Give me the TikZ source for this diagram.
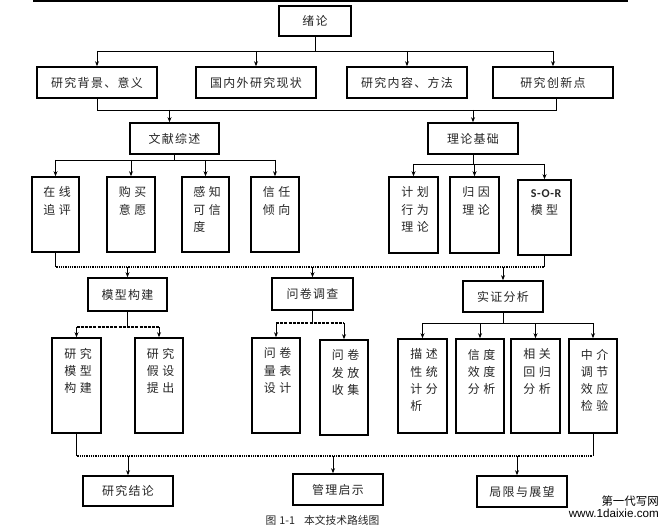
\documentclass[tikz,border=0pt]{standalone}
\usepackage{fontspec}
\usetikzlibrary{arrows.meta}
\newfontfamily\cjkh[LetterSpace=11]{Noto Sans CJK SC}
\newfontfamily\cjkv[LetterSpace=28]{Noto Sans CJK SC}
\newfontfamily\cjkn{Noto Sans CJK SC}
\newfontfamily\carl[LetterSpace=6]{Carlito}
\newfontfamily\libs{Liberation Sans}
\begin{document}
\begin{tikzpicture}[x=1bp,y=-1bp,
  bx/.style={draw, line width=1.6bp, inner sep=0pt, text=black!85},
  hb/.style={bx, font=\cjkh\fontsize{12}{14}\selectfont},
  vlab/.style={anchor=north, yshift=-10.5bp, xshift=1.6bp, align=left, inner sep=0pt, text=black!85, font=\cjkv\fontsize{12}{17.3}\selectfont},
  vb/.style={bx, label={[vlab]north:{#1}}},
  conn/.style={line width=0.8bp},
  arr/.style={conn, -{Stealth[length=5bp,width=4bp]}},
  dotbus/.style={line width=1.3bp, dash pattern=on 1bp off 0.8bp},
  dashbus/.style={line width=1.4bp, dash pattern=on 3bp off 1.2bp},
]
\useasboundingbox (0,0) rectangle (671,529);
\fill[white] (0,0) rectangle (671,529);
\draw[line width=1.5bp] (33,1) -- (628,1);

% level 0 and 1
\node[hb, minimum width=72bp, minimum height=30bp] (xl) at (315,21) {绪论};
\node[hb, minimum width=120bp, minimum height=31bp] (r1) at (97,82.5) {研究背景、意义};
\node[hb, minimum width=120bp, minimum height=31bp] (r2) at (256,82.5) {国内外研究现状};
\node[hb, minimum width=120bp, minimum height=31bp] (r3) at (407,82.5) {研究内容、方法};
\node[hb, minimum width=120bp, minimum height=31bp] (r4) at (553,82.5) {研究创新点};

\node[hb, minimum width=89bp, minimum height=31bp] (wx) at (174.5,138.5) {文献综述};
\node[hb, minimum width=90bp, minimum height=31bp] (ll) at (473,138.5) {理论基础};

% row 3
\node[vb={在线\\追评}, minimum width=47bp, minimum height=75bp] (a1) at (55.5,214.5) {};
\node[vb={购买\\意愿}, minimum width=48bp, minimum height=75bp] (a2) at (131,214.5) {};
\node[vb={感知\\可信\\度}, minimum width=47bp, minimum height=75bp] (a3) at (205.5,214.5) {};
\node[vb={信任\\倾向}, minimum width=48bp, minimum height=75bp] (a4) at (275,214.5) {};
\node[vb={计划\\行为\\理论}, minimum width=49bp, minimum height=76bp] (b1) at (413.5,215) {};
\node[vb={归因\\理论}, minimum width=49bp, minimum height=76bp] (b2) at (474.5,215) {};
\node[vb={{\carl\bfseries\fontsize{12}{17.3}\selectfont S-O-R}\\模型}, minimum width=53bp, minimum height=75bp] (b3) at (544.5,217.5) {};

% row 3 heads
\node[hb, minimum width=79bp, minimum height=33bp] (mx) at (127.5,294.5) {模型构建};
\node[hb, minimum width=81bp, minimum height=32bp] (wj) at (312.5,294) {问卷调查};
\node[hb, minimum width=80bp, minimum height=31bp] (sz) at (503,296.5) {实证分析};

% row 4
\node[vb={研究\\模型\\构建}, minimum width=49bp, minimum height=95bp] (c1) at (76.5,385.5) {};
\node[vb={研究\\假设\\提出}, minimum width=48bp, minimum height=95bp] (c2) at (159,385.5) {};
\node[vb={问卷\\量表\\设计}, minimum width=48bp, minimum height=95bp] (d1) at (276,385.5) {};
\node[vb={问卷\\发放\\收集}, minimum width=48bp, minimum height=95bp] (d2) at (344,387.5) {};
\node[vb={描述\\性统\\计分\\析}, minimum width=49bp, minimum height=94bp] (e1) at (422.5,386) {};
\node[vb={信度\\效度\\分析}, minimum width=48bp, minimum height=94bp] (e2) at (480,386) {};
\node[vb={相关\\回归\\分析}, minimum width=49bp, minimum height=94bp] (e3) at (535.5,386) {};
\node[vb={中介\\调节\\效应\\检验}, minimum width=48bp, minimum height=94bp] (e4) at (593,386) {};

% bottom
\node[hb, minimum width=90bp, minimum height=30bp] (f1) at (128,491) {研究结论};
\node[hb, minimum width=90bp, minimum height=31bp] (f2) at (338,489.5) {管理启示};
\node[hb, minimum width=90bp, minimum height=31bp] (f3) at (522,491.5) {局限与展望};

\node[font=\cjkn\fontsize{10.8}{12}\selectfont, text=black!85, inner sep=0pt] (cap) at (322.5,520) {图\hspace{3bp}1-1\hspace{9bp}本文技术路线图};
\node[anchor=east, font=\cjkn\fontsize{11.5}{13}\selectfont, inner sep=0pt] (wm1) at (659,501) {第一代写网};
\node[anchor=east, font=\libs\fontsize{11.7}{13}\selectfont, inner sep=0pt] (wm2) at (659,513) {www.1daixie.com};

% bus 1
\coordinate (j1) at (315,51);
\draw[conn] (xl.south) -- (j1);
\draw[conn] (j1 -| r1.north) -- (j1 -| r4.north);
\foreach \n in {r1,r2,r3,r4} \draw[arr] (j1 -| \n.north) -- (\n.north);

% bus 2
\coordinate (j2) at (315,110);
\draw[conn] (r1.south) -- (r1.south |- j2) -- ([xshift=3bp]r4.south |- j2) -- ([xshift=3bp]r4.south);
\draw[arr] ([xshift=-5bp]wx.north |- j2) -- ([xshift=-5bp]wx.north);
\draw[arr] (ll.north |- j2) -- (ll.north);

% bus 3
\coordinate (j3) at (173,160);
\draw[conn] (wx.south) -- (wx.south |- j3);
\draw[conn] (j3 -| a1.north) -- (j3 -| a4.north);
\foreach \n in {a1,a2,a3,a4} \draw[arr] (j3 -| \n.north) -- (\n.north);

% bus 4
\coordinate (j4) at (473,164);
\draw[conn] (ll.south) -- (ll.south |- j4);
\draw[conn] (j4 -| b1.north) -- (j4 -| b3.north);
\foreach \n in {b1,b2,b3} \draw[arr] (j4 -| \n.north) -- (\n.north);

% bus 5
\coordinate (j5) at (300,267);
\draw[conn] (a1.south) -- (a1.south |- j5);
\draw[dotbus] (a1.south |- j5) -- (b3.south |- j5);
\draw[conn] (b3.south |- j5) -- (b3.south);
\foreach \n in {mx,wj,sz} \draw[arr] (j5 -| \n.north) -- (\n.north);

% bus 6
\coordinate (j6) at (124,327);
\draw[conn] (mx.south) -- (mx.south |- j6);
\draw[dashbus] (j6 -| c1.north) -- (j6 -| c2.north);
\foreach \n in {c1,c2} \draw[arr] (j6 -| \n.north) -- (\n.north);

% bus 7
\coordinate (j7) at (313,323);
\draw[conn] (wj.south) -- (wj.south |- j7);
\draw[dashbus] (j7 -| d1.north) -- (j7 -| d2.north);
\foreach \n in {d1,d2} \draw[arr] (j7 -| \n.north) -- (\n.north);

% bus 8
\coordinate (j8) at (503,323);
\draw[conn] (sz.south) -- (sz.south |- j8);
\draw[conn] (j8 -| e1.north) -- (j8 -| e4.north);
\foreach \n in {e1,e2,e3,e4} \draw[arr] (j8 -| \n.north) -- (\n.north);

% bus 9
\coordinate (j9) at (300,456);
\draw[conn] (c1.south) -- (c1.south |- j9);
\draw[dotbus] (c1.south |- j9) -- (e4.south |- j9);
\draw[conn] (e4.south |- j9) -- (e4.south);
\draw[arr] (j9 -| f1.north) -- (f1.north);
\draw[arr] ([xshift=-5bp]f2.north |- j9) -- ([xshift=-5bp]f2.north);
\draw[arr] ([xshift=-5bp]f3.north |- j9) -- ([xshift=-5bp]f3.north);
\end{tikzpicture}
\end{document}
